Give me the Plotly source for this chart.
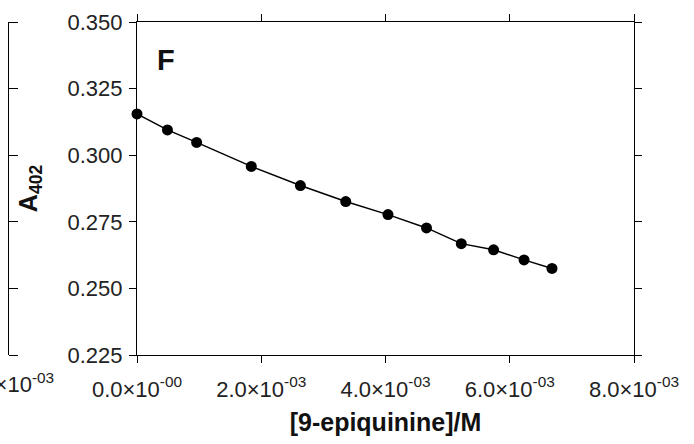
import plotly.graph_objects as go

# Data
conc = [0.0, 0.49e-3, 0.96e-3, 1.84e-3, 2.63e-3, 3.36e-3, 4.04e-3, 4.66e-3, 5.22e-3, 5.74e-3, 6.23e-3, 6.68e-3]
a402 = [0.3155, 0.3095, 0.3048, 0.2958, 0.2886, 0.2826, 0.2777, 0.2727, 0.2668, 0.2645, 0.2607, 0.2575]

x_tickvals = [0.0, 2.0e-3, 4.0e-3, 6.0e-3, 8.0e-3]
x_ticktext = ["0.0×10<sup>-00</sup>", "2.0×10<sup>-03</sup>", "4.0×10<sup>-03</sup>",
              "6.0×10<sup>-03</sup>", "8.0×10<sup>-03</sup>"]
y_tickvals = [0.225, 0.250, 0.275, 0.300, 0.325, 0.350]

W, H = 694, 444
FONT = "Liberation Sans, Arial, sans-serif"

fig = go.Figure()
fig.add_trace(go.Scatter(
    x=conc, y=a402, mode="lines+markers",
    line=dict(color="black", width=1.5),
    marker=dict(color="black", size=11),
    showlegend=False, cliponaxis=False,
))
# empty trace so the neighbouring panel's axis is drawn
fig.add_trace(go.Scatter(x=[], y=[], yaxis="y2", showlegend=False, hoverinfo="skip"))

fig.update_layout(
    width=W, height=H,
    margin=dict(l=0, r=0, t=0, b=0, autoexpand=False),
    paper_bgcolor="white", plot_bgcolor="white",
    font=dict(family=FONT, color="black", size=21),
    xaxis=dict(
        domain=[137 / W, 634 / W], automargin=False,
        range=[0, 8.0e-3],
        tickvals=x_tickvals, ticktext=x_ticktext,
        ticks="outside", ticklen=7, tickcolor="black", tickwidth=1,
        ticklabelstandoff=7,
        showline=True, linecolor="black", linewidth=1.2, mirror="ticks",
        showgrid=False, zeroline=False,
        tickfont=dict(size=22, color="#222"),
        title=dict(text="<b>[9-epiquinine]/M</b>", font=dict(size=25, color="#111"), standoff=12),
    ),
    yaxis=dict(
        domain=[(H - 355) / H, (H - 22) / H], automargin=False,
        range=[0.225, 0.350],
        tickvals=y_tickvals, tickformat=".3f",
        ticks="outside", ticklen=7, tickcolor="black", tickwidth=1,
        ticklabelstandoff=2,
        showline=True, linecolor="black", linewidth=1.2, mirror="ticks",
        showgrid=False, zeroline=False,
        tickfont=dict(size=22, color="#222"),
        title=dict(text="<b>A<sub>402</sub></b>", font=dict(size=25, color="#111"), standoff=22),
    ),
    # right edge of the neighbouring (clipped) panel
    yaxis2=dict(
        overlaying="y", anchor="free", position=8 / W, side="right", automargin=False,
        range=[0.225, 0.350], tickvals=y_tickvals,
        ticks="outside", ticklen=9, tickcolor="black",
        showticklabels=False, showline=True, linecolor="black", linewidth=1.2,
        showgrid=False, zeroline=False,
    ),
)

fig.add_annotation(
    text="<b>F</b>", xref="paper", yref="paper",
    x=155 / W, y=1 - 42 / H, xanchor="left", yanchor="top", showarrow=False,
    font=dict(size=29, color="#111"),
)
fig.add_annotation(
    text="8.0×10<sup>-03</sup>", xref="paper", yref="paper",
    x=56 / W, y=1 - 383 / H, xanchor="right", yanchor="middle", showarrow=False,
    font=dict(size=22, color="#222"),
)

fig.write_html("out.html", config={"displayModeBar": False},
               post_script="document.body.style.margin='0';")
